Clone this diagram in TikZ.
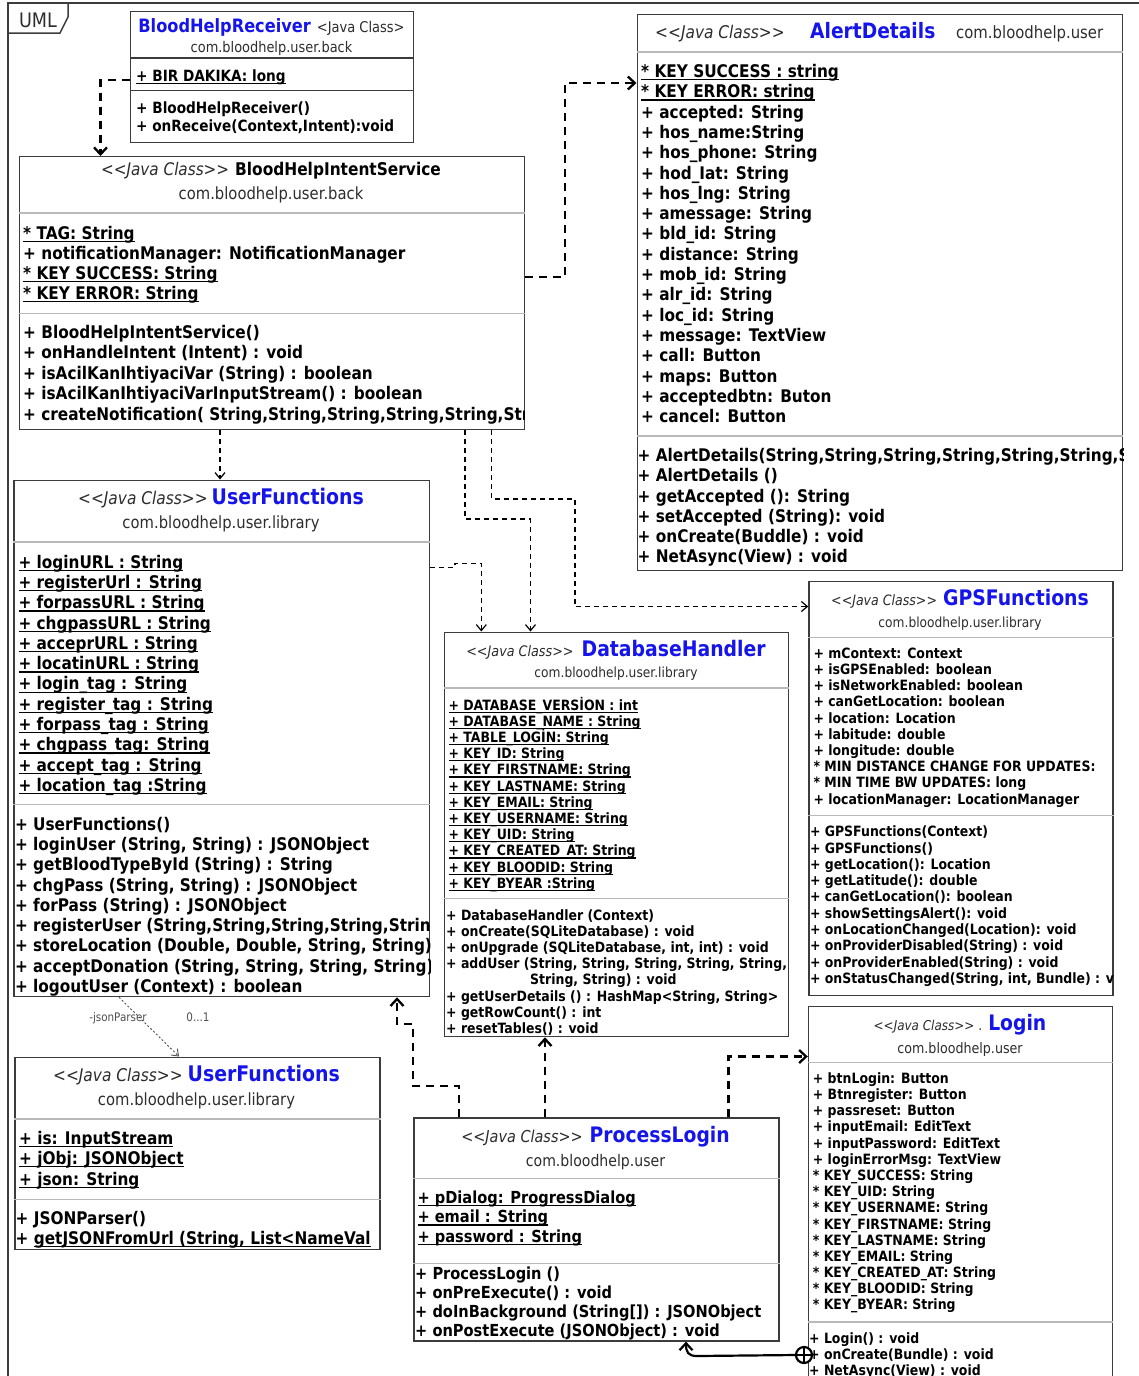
\documentclass[tikz,border=0pt]{standalone}
\usepackage{fontspec}
\setmainfont{DejaVu Sans}[FakeStretch=0.88]
\usetikzlibrary{arrows.meta}

\definecolor{clsblue}{RGB}{20,20,235}
\definecolor{boxline}{RGB}{60,60,60}
\definecolor{sepgray}{RGB}{185,185,185}
\definecolor{softtext}{RGB}{45,45,45}
\definecolor{linktext}{RGB}{80,80,80}

\newcommand\fs[1]{\fontsize{#1}{#1}\selectfont}
% underline that sits just below the baseline, crossing descenders
\newsavebox\ulbox
\newcommand\ulx[1]{\sbox\ulbox{#1}\rlap{\rule[-2.8pt]{\wd\ulbox}{1.2pt}}\usebox\ulbox}
% italic stereotype
\newcommand\jc[1]{{\color{softtext}\fs{#1}\itshape <\kern0pt<Java Class>\kern0pt>}}
% one text row per list item: name prefix, x, first baseline, step, style, items
\newcommand\classrows[6]{%
  \foreach \rowtext [count=\rowi] in {#6}{%
    \node[#5] (#1\rowi) at (#2,{#3+(\rowi-1)*#4}) {\rowtext};}}

\tikzset{
  classbox/.style={draw=boxline, line width=1.3pt, fill=white, inner sep=0pt, anchor=north west},
  compline/.style={draw=sepgray, line width=1.5pt},
  hdr/.style={anchor=base, inner sep=0pt, text=black},
  pkg/.style={anchor=base, inner sep=0pt, text=softtext},
  rowL/.style={anchor=base west, inner sep=0pt, font=\bfseries\fs{17.4}},
  rowP/.style={anchor=base west, inner sep=0pt, font=\bfseries\fs{16.6}},
  rowM/.style={anchor=base west, inner sep=0pt, font=\bfseries\fs{15.5}},
  rowS/.style={anchor=base west, inner sep=0pt, font=\bfseries\fs{14.2}},
  depthick/.style={line width=2.3pt, dash pattern=on 8pt off 6pt, -{Straight Barb[length=7pt,width=13pt]}},
  depthin/.style={line width=1.2pt, dash pattern=on 5pt off 4pt, -{Straight Barb[length=6pt,width=10pt]}},
  assoc/.style={draw=linktext, line width=0.9pt, dash pattern=on 2pt off 2pt, -{Straight Barb[length=6pt,width=9pt]}},
  nestline/.style={line width=2.2pt},
  frameline/.style={draw=boxline, line width=1.5pt},
  linklabel/.style={anchor=base, inner sep=0pt, text=linktext, font=\fs{11.8}},
}

\begin{document}
\begin{tikzpicture}[x=1pt,y=-1pt]
\useasboundingbox (0,0) rectangle (1139,1376);
\fill[white] (0,0) rectangle (1139,1376);

% diagram frame and its name tab
\draw[frameline] (8,1380) -- (8,3) -- (1139,3);
\draw[frameline] (8,33) -- (60,33) -- (68,17) -- (68,3);
\node[anchor=base, inner sep=0pt, text=softtext, font=\fs{20}] (frametag) at (38,27) {UML};

% ---------------- class boxes ----------------
\node[classbox, minimum width=283pt, minimum height=131pt] (bhr) at (130,11) {};
\node[classbox, minimum width=505pt, minimum height=273pt] (bhis) at (18.5,156) {};
\node[classbox, minimum width=485.5pt, minimum height=556pt] (ad) at (636.5,14) {};
\node[classbox, minimum width=415.7pt, minimum height=516.5pt] (uf) at (13.3,479.5) {};
\node[classbox, minimum width=344pt, minimum height=404.5pt] (dbh) at (444,631.5) {};
\node[classbox, minimum width=304pt, minimum height=414pt] (gps) at (808.3,581) {};
\node[classbox, minimum width=304pt, minimum height=390pt] (lg) at (807.8,1006) {};
\node[classbox, minimum width=365pt, minimum height=192pt] (jp) at (14.3,1056.5) {};
\node[classbox, minimum width=365pt, minimum height=223pt] (pl) at (413.3,1117.3) {};

% compartment separators
\draw[compline, draw=boxline, line width=1.3pt] (bhr.west |- 0,58) -- (bhr.east |- 0,58);
\draw[compline, draw=boxline, line width=1.3pt] (bhr.west |- 0,90.5) -- (bhr.east |- 0,90.5);
\draw[compline] (bhis.west |- 0,213) -- (bhis.east |- 0,213);
\draw[compline] (bhis.west |- 0,313.5) -- (bhis.east |- 0,313.5);
\draw[compline] (ad.west |- 0,52) -- (ad.east |- 0,52);
\draw[compline] (ad.west |- 0,436) -- (ad.east |- 0,436);
\draw[compline] (uf.west |- 0,542) -- (uf.east |- 0,542);
\draw[compline] (uf.west |- 0,804.5) -- (uf.east |- 0,804.5);
\draw[compline] (dbh.west |- 0,688) -- (dbh.east |- 0,688);
\draw[compline] (dbh.west |- 0,898.5) -- (dbh.east |- 0,898.5);
\draw[compline] (gps.west |- 0,637.5) -- (gps.east |- 0,637.5);
\draw[compline] (gps.west |- 0,815.5) -- (gps.east |- 0,815.5);
\draw[compline] (lg.west |- 0,1062.5) -- (lg.east |- 0,1062.5);
\draw[compline] (lg.west |- 0,1322) -- (lg.east |- 0,1322);
\draw[compline] (jp.west |- 0,1119) -- (jp.east |- 0,1119);
\draw[compline] (jp.west |- 0,1199.5) -- (jp.east |- 0,1199.5);
\draw[compline] (pl.west |- 0,1178.3) -- (pl.east |- 0,1178.3);
\draw[compline] (pl.west |- 0,1263.3) -- (pl.east |- 0,1263.3);

% ---------------- BloodHelpReceiver ----------------
\begin{scope}
\clip (bhr.north west) rectangle (bhr.south east);
\node[hdr] (bhr-t) at (271.5,32) {\textcolor{clsblue}{\bfseries\fs{18.4}BloodHelpReceiver}\hspace{6pt}{\color{softtext}\fs{14.8}<Java Class>}};
\node[pkg, font=\fs{14.7}] (bhr-p) at (271.5,52) {com.bloodhelp.user.back};
\classrows{bhr-a}{136}{81}{18}{rowM}{{\ulx{+ BIR DAKIKA: long}}}
\classrows{bhr-m}{136}{113}{18}{rowM}{{+ BloodHelpReceiver()},{+ onReceive(Context,Intent):void}}
\end{scope}

% ---------------- BloodHelpIntentService ----------------
\begin{scope}
\clip (bhis.north west) rectangle (bhis.south east);
\node[hdr] (bhis-t) at (271,175) {\jc{17.3}\hspace{6pt}{\bfseries\fs{17.5}BloodHelpIntentService}};
\node[pkg, font=\fs{16.8}] (bhis-p) at (271,199) {com.bloodhelp.user.back};
\classrows{bhis-a}{23}{239}{20.1}{rowL}{{\ulx{* TAG: String}},{+ notificationManager: NotificationManager},{\ulx{* KEY SUCCESS: String}},{\ulx{* KEY ERROR: String}}}
\classrows{bhis-m}{23}{338.5}{20.4}{rowL}{{+ BloodHelpIntentService()},{+ onHandleIntent (Intent) : void},{+ isAcilKanIhtiyaciVar (String) : boolean},{+ isAcilKanIhtiyaciVarInputStream() : boolean},{+ createNotification( String,String,String,String,String,Str}}
\end{scope}

% ---------------- AlertDetails ----------------
\begin{scope}
\clip (ad.north west) rectangle (ad.south east);
\node[hdr, anchor=base west] (ad-s) at (655,38) {\jc{17.5}};
\node[hdr, anchor=base west] (ad-t) at (810,38) {\textcolor{clsblue}{\bfseries\fs{21.2}AlertDetails}};
\node[pkg, anchor=base west, font=\fs{16.9}] (ad-p) at (956,38) {com.bloodhelp.user};
\classrows{ad-a}{641}{77.5}{20.3}{rowL}{{\ulx{* KEY SUCCESS : string}},{\ulx{* KEY ERROR: string}},{+ accepted: String},{+ hos\_name:String},{+ hos\_phone: String},{+ hod\_Iat: String},{+ hos\_lng: String},{+ amessage: String},{+ bld\_id: String},{+ distance: String},{+ mob\_id: String},{+ alr\_id: String},{+ loc\_id: String},{+ message: TextView},{+ call: Button},{+ maps: Button},{+ acceptedbtn: Buton},{+ cancel: Button}}
\classrows{ad-m}{637.5}{461.7}{20.2}{rowL}{{+ AlertDetails(String,String,String,String,String,String,S},{+ AlertDetails ()},{+ getAccepted (): String},{+ setAccepted (String): void},{+ onCreate(Buddle) : void},{+ NetAsync(View) : void}}
\end{scope}

% ---------------- UserFunctions ----------------
\begin{scope}
\clip (uf.north west) rectangle (uf.south east);
\node[hdr] (uf-t) at (221,504) {\jc{17.5}\hspace{4pt}\textcolor{clsblue}{\bfseries\fs{21.5}UserFunctions}};
\node[pkg, font=\fs{16.8}] (uf-p) at (221,528) {com.bloodhelp.user.library};
\classrows{uf-a}{18.3}{568.3}{20.28}{rowL}{{\ulx{+ loginURL : String}},{\ulx{+ registerUrl : String}},{\ulx{+ forpassURL : String}},{\ulx{+ chgpassURL : String}},{\ulx{+ acceprURL : String}},{\ulx{+ locatinURL : String}},{\ulx{+ login\_tag : String}},{\ulx{+ register\_tag : String}},{\ulx{+ forpass\_tag : String}},{\ulx{+ chgpass\_tag: String}},{\ulx{+ accept\_tag : String}},{\ulx{+ location\_tag :String}}}
\classrows{uf-m}{14.8}{830.3}{20.26}{rowL}{{+ UserFunctions()},{+ loginUser (String, String) : JSONObject},{+ getBloodTypeById (String) : String},{+ chgPass (String, String) : JSONObject},{+ forPass (String) : JSONObject},{+ registerUser (String,String,String,String,Strin},{+ storeLocation (Double, Double, String, String)},{+ acceptDonation (String, String, String, String)},{+ logoutUser (Context) : boolean}}
\end{scope}

% ---------------- DatabaseHandler ----------------
\begin{scope}
\clip (dbh.north west) rectangle (dbh.south east);
\node[hdr] (dbh-t) at (616,656) {\jc{14.5}\hspace{8pt}\textcolor{clsblue}{\bfseries\fs{21.4}DatabaseHandler}};
\node[pkg, font=\fs{13.9}] (dbh-p) at (616,677) {com.bloodhelp.user.library};
\classrows{dbh-a}{448.3}{710}{16.2}{rowS}{{\ulx{+ DATABASE\_VERSİON : int}},{\ulx{+ DATABASE\_NAME : String}},{\ulx{+ TABLE\_LOGİN: String}},{\ulx{+ KEY\_ID: String}},{\ulx{+ KEY\_FIRSTNAME: String}},{\ulx{+ KEY\_LASTNAME: String}},{\ulx{+ KEY\_EMAIL: String}},{\ulx{+ KEY\_USERNAME: String}},{\ulx{+ KEY\_UID: String}},{\ulx{+ KEY\_CREATED\_AT: String}},{\ulx{+ KEY\_BLOODID: String}},{\ulx{+ KEY\_BYEAR :String}}}
\classrows{dbh-m}{446}{920}{16.19}{rowS}{{+ DatabaseHandler (Context)},{+ onCreate(SQLiteDatabase) : void},{+ onUpgrade (SQLiteDatabase, int, int) : void},{+ addUser (String, String, String, String, String,}}
\node[rowS] (dbh-mc) at (530,984.8) {String, String) : void};
\classrows{dbh-n}{446}{1001}{16.19}{rowS}{{+ getUserDetails () : HashMap<String, String>},{+ getRowCount() : int},{+ resetTables() : void}}
\end{scope}

% ---------------- GPSFunctions ----------------
\begin{scope}
\clip (gps.north west) rectangle (gps.south east);
\node[hdr] (gps-t) at (960,605) {\jc{14.3}\hspace{6pt}\textcolor{clsblue}{\bfseries\fs{21.4}GPSFunctions}};
\node[pkg, font=\fs{13.9}] (gps-p) at (960,627) {com.bloodhelp.user.library};
\classrows{gps-a}{813.3}{658.3}{16.2}{rowS}{{+ mContext: Context},{+ isGPSEnabled: boolean},{+ isNetworkEnabled: boolean},{+ canGetLocation: boolean},{+ location: Location},{+ labitude: double},{+ longitude: double},{* MIN DISTANCE CHANGE FOR UPDATES:},{* MIN TIME BW UPDATES: long},{+ locationManager: LocationManager}}
\classrows{gps-m}{809.8}{836.7}{16.3}{rowS}{{+ GPSFunctions(Context)},{+ GPSFunctions()},{+ getLocation(): Location},{+ getLatitude(): double},{+ canGetLocation(): boolean},{+ showSettingsAlert(): void},{+ onLocationChanged(Location): void},{+ onProviderDisabled(String) : void},{+ onProviderEnabled(String) : void},{+ onStatusChanged(String, int, Bundle) : v}}
\end{scope}

% ---------------- Login ----------------
\begin{scope}
\clip (lg.north west) rectangle (lg.south east);
\node[hdr] (lg-t) at (960,1030) {\jc{13.6}\hspace{4pt}{\color{softtext}\fs{14}.}\hspace{6pt}\textcolor{clsblue}{\bfseries\fs{21.3}Login}};
\node[pkg, font=\fs{14.4}] (lg-p) at (960,1053) {com.bloodhelp.user};
\classrows{lg-a}{812.7}{1083.3}{16.19}{rowS}{{+ btnLogin: Button},{+ Btnregister: Button},{+ passreset: Button},{+ inputEmail: EditText},{+ inputPassword: EditText},{+ loginErrorMsg: TextView},{* KEY\_SUCCESS: String},{* KEY\_UID: String},{* KEY\_USERNAME: String},{* KEY\_FIRSTNAME: String},{* KEY\_LASTNAME: String},{* KEY\_EMAIL: String},{* KEY\_CREATED\_AT: String},{* KEY\_BLOODID: String},{* KEY\_BYEAR: String}}
\classrows{lg-m}{809}{1343.3}{16}{rowS}{{+ Login() : void},{+ onCreate(Bundle) : void},{+ NetAsync(View) : void}}
\end{scope}

% ---------------- UserFunctions (JSON parser) ----------------
\begin{scope}
\clip (jp.north west) rectangle (jp.south east);
\node[hdr] (jp-t) at (196.5,1081) {\jc{17.5}\hspace{5pt}\textcolor{clsblue}{\bfseries\fs{21.5}UserFunctions}};
\node[pkg, font=\fs{16.8}] (jp-p) at (196.5,1105) {com.bloodhelp.user.library};
\classrows{jp-a}{19}{1144}{20.5}{rowL}{{\ulx{+ is: InputStream}},{\ulx{+ jObj: JSONObject}},{\ulx{+ json: String}}}
\classrows{jp-m}{15.5}{1224}{20.3}{rowL}{{+ JSONParser()},{+ \ulx{getJSONFromUrl (String, List<NameVal}}}
\end{scope}

% ---------------- ProcessLogin ----------------
\begin{scope}
\clip (pl.north west) rectangle (pl.south east);
\node[hdr] (pl-t) at (595.5,1142) {\jc{16.4}\hspace{7pt}\textcolor{clsblue}{\bfseries\fs{21.3}ProcessLogin}};
\node[pkg, font=\fs{16}] (pl-p) at (595.5,1166) {com.bloodhelp.user};
\classrows{pl-a}{417.3}{1203.3}{19.5}{rowP}{{\ulx{+ pDialog: ProgressDialog}},{\ulx{+ email : String}},{\ulx{+ password : String}}}
\classrows{pl-m}{415}{1279.3}{19.1}{rowP}{{+ ProcessLogin ()},{+ onPreExecute() : void},{+ doInBackground (String[]) : JSONObject},{+ onPostExecute (JSONObject) : void}}
\end{scope}

% ---------------- dependencies ----------------
\draw[depthick] (bhr.west |- 0,80) -| (bhis.north -| 100.5,0);
\draw[depthick] (bhis.east |- 0,277) -- (565,277) |- (ad.west |- 0,83);
\draw[depthin] (bhis.south -| 220,0) -- (uf.north -| 220,0);
\draw[depthin] (bhis.south -| 465,0) |- (530.5,519) -- (dbh.north -| 530.5,0);
\draw[depthin] (bhis.south -| 491.5,0) |- (575,499) |- (gps.west |- 0,606.5);
\draw[depthin] (uf.east |- 0,567.7) -- (455,567.7) -- (455,563.3) -| (dbh.north -| 481.3,0);
\draw[depthick] (pl.north -| 459,0) |- (413,1086) -- (413,1024) -| (uf.south -| 397,0);
\draw[depthick] (pl.north -| 545,0) -- (dbh.south -| 545,0);
\draw[depthick] (pl.north -| 728.5,0) |- (lg.west |- 0,1056.5);

% association with role and multiplicity
\draw[assoc] (uf.south -| 119,0) -- (jp.north -| 179,0);
\node[linklabel] (role) at (118,1021) {-jsonParser};
\node[linklabel] (mult) at (198,1021) {0...1};

% nesting: ProcessLogin is nested in Login
\coordinate (nestc) at (804,1355);
\draw[nestline, -{Straight Barb[length=7pt,width=13pt]}] ([xshift=-8pt]nestc) -- (697,1356) .. controls (688,1356) and (686,1352) .. (pl.south -| 686,0);
\draw[nestline, fill=white] (nestc) circle[radius=8pt];
\draw[nestline] ([xshift=-8pt]nestc) -- ([xshift=8pt]nestc) ([yshift=-8pt]nestc) -- ([yshift=8pt]nestc);
\end{tikzpicture}
\end{document}
